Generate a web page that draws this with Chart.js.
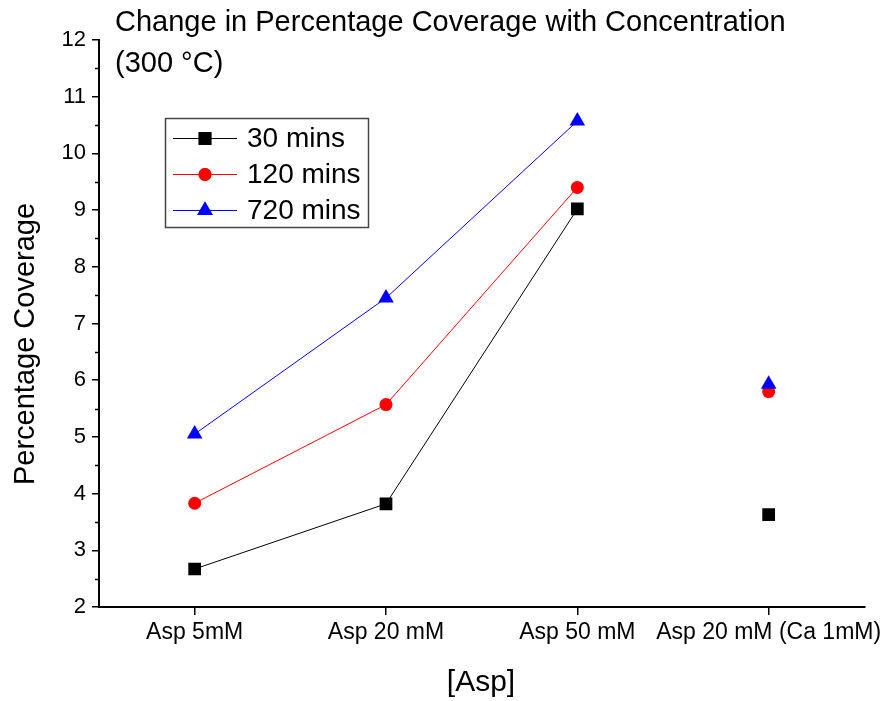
<!DOCTYPE html>
<html>
<head>
<meta charset="utf-8">
<script src="https://cdn.jsdelivr.net/npm/chart.js@4"></script>
<style>
  html, body { margin: 0; padding: 0; background: #fff; }
  #wrap { width: 888px; height: 701px; position: relative; }
</style>
</head>
<body>
<div id="wrap"><canvas id="c" width="888" height="701"></canvas></div>
<script>
// ---- data ----
const categories = ["Asp 5mM", "Asp 20 mM", "Asp 50 mM", "Asp 20 mM (Ca 1mM)"];
const series30 = [2.67, 3.82, 9.02, 3.63];
const series120 = [3.83, 5.57, 9.40, 5.80];
const series720 = [5.05, 7.45, 10.57, 5.93];
const seriesNames = ["30 mins", "120 mins", "720 mins"];
const yTicks = [2, 3, 4, 5, 6, 7, 8, 9, 10, 11, 12];
const titleLines = ["Change in Percentage Coverage with Concentration", "(300 °C)"];
const xTitle = "[Asp]";
const yTitle = "Percentage Coverage";

const FONT = "'Liberation Sans', Arial, sans-serif";
const colors = ["#000000", "#ff0000", "#0000ff"];
const styles = ["rect", "circle", "triangle"];
const radii = [9, 6.5, 9];

// hide the segment leading to the last (unconnected) category
const hideLast = (col) => (ctx) => ctx.p1DataIndex === categories.length - 1 ? "rgba(0,0,0,0)" : col;

const datasets = [series30, series120, series720].map((d, i) => ({
  label: seriesNames[i],
  data: d,
  borderColor: colors[i],
  backgroundColor: colors[i],
  borderWidth: 1,
  pointStyle: styles[i],
  pointRadius: radii[i],
  pointHoverRadius: radii[i],
  pointBorderWidth: 0,
  tension: 0,
  order: 2 - i,
  segment: { borderColor: hideLast(colors[i]) }
}));

const decor = {
  id: "decor",
  afterDraw(chart) {
    const ctx = chart.ctx;
    const y = chart.scales.y, x = chart.scales.x;
    ctx.save();
    // minor ticks on y
    ctx.strokeStyle = "#000";
    ctx.lineWidth = 1.5;
    for (let v = 2.5; v < 12; v += 1) {
      const py = Math.round(y.getPixelForValue(v)) + 0.5;
      ctx.beginPath();
      ctx.moveTo(x.left - 4, py);
      ctx.lineTo(x.left, py);
      ctx.stroke();
    }
    // title
    ctx.fillStyle = "#000";
    ctx.textBaseline = "alphabetic";
    ctx.textAlign = "left";
    ctx.font = "29px " + FONT;
    ctx.fillText(titleLines[0], 115, 31);
    ctx.fillText(titleLines[1], 115, 72);
    // axis titles
    ctx.font = "30px " + FONT;
    ctx.textAlign = "center";
    ctx.textBaseline = "middle";
    ctx.fillText(xTitle, 481, 683);
    ctx.font = "29px " + FONT;
    ctx.save();
    ctx.translate(26, 344);
    ctx.rotate(-Math.PI / 2);
    ctx.fillText(yTitle, 0, 0);
    ctx.restore();
    // legend
    ctx.strokeStyle = "#444";
    ctx.lineWidth = 1.5;
    ctx.strokeRect(165.5, 118.5, 203, 109);
    const rows = [138, 174, 210];
    ctx.font = "28px " + FONT;
    ctx.textAlign = "left";
    ctx.textBaseline = "middle";
    chart.data.datasets.forEach((ds, i) => {
      const ry = rows[i] + 0.5;
      ctx.strokeStyle = ds.borderColor;
      ctx.lineWidth = 1;
      ctx.beginPath();
      ctx.moveTo(173, ry);
      ctx.lineTo(237, ry);
      ctx.stroke();
      ctx.fillStyle = ds.backgroundColor;
      Chart.helpers.drawPoint(ctx, { pointStyle: ds.pointStyle, radius: ds.pointRadius, borderWidth: 0, rotation: 0 }, 205, ry);
      ctx.fill();
      ctx.fillStyle = "#000";
      ctx.fillText(ds.label, 247, rows[i] + 1);
    });
    ctx.restore();
  }
};

new Chart(document.getElementById("c"), {
  type: "line",
  data: { labels: categories, datasets },
  options: {
    responsive: false,
    animation: false,
    layout: { padding: { top: 40, right: 23, left: 0, bottom: 0 } },
    plugins: { legend: { display: false }, tooltip: { enabled: false }, title: { display: false } },
    scales: {
      x: {
        type: "category",
        offset: true,
        afterFit: (s) => { s.height = 94; },
        grid: { drawOnChartArea: false, drawTicks: true, tickLength: 8, color: "#000", lineWidth: 1.5, offset: false },
        border: { display: true, color: "#000", width: 2 },
        ticks: { color: "#000", font: { family: FONT, size: 23 }, padding: 4, maxRotation: 0, autoSkip: false }
      },
      y: {
        min: yTicks[0],
        max: yTicks[yTicks.length - 1],
        afterFit: (s) => { s.width = 99; },
        afterBuildTicks: (s) => { s.ticks = yTicks.map(v => ({ value: v })); },
        grid: { drawOnChartArea: false, drawTicks: true, tickLength: 7, color: "#000", lineWidth: 1.5 },
        border: { display: true, color: "#000", width: 2 },
        ticks: { color: "#000", font: { family: FONT, size: 22 }, padding: 6 }
      }
    }
  },
  plugins: [decor]
});
</script>
</body>
</html>
